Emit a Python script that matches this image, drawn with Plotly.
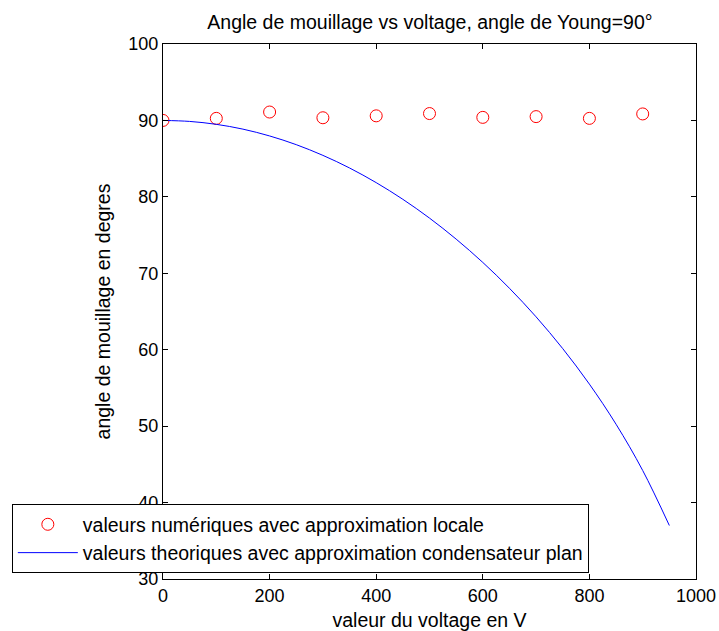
import plotly.graph_objects as go

# Measured contact angles (local approximation)
volt_num = [0, 100, 200, 300, 400, 500, 600, 700, 800, 900]
angle_num = [90.0, 90.27, 91.1, 90.35, 90.6, 90.9, 90.4, 90.5, 90.27, 90.85]

# Theoretical contact angles (parallel-plate capacitor approximation)
volt_th = [0, 50, 100, 150, 200, 250, 300, 350, 400, 450, 500,
           550, 600, 650, 700, 750, 800, 850, 900, 950]
angle_th = [90.0, 89.87, 89.49, 88.86, 87.97, 86.83, 85.43, 83.78, 81.86, 79.68, 77.22,
            74.47, 71.42, 68.04, 64.30, 60.14, 55.50, 50.25, 44.20, 37.0]

FONT = "Liberation Sans, Arial, sans-serif"
TXT = 19.5

fig = go.Figure()
fig.add_trace(go.Scatter(
    x=volt_num, y=angle_num, mode="markers",
    name="valeurs numériques avec approximation locale",
    marker=dict(symbol="circle-open", size=12, color="#ff0000", line=dict(width=1)),
))
fig.add_trace(go.Scatter(
    x=volt_th, y=angle_th, mode="lines",
    name="valeurs theoriques avec approximation condensateur plan",
    line=dict(color="#0000ff", width=1, shape="spline"),
))

axis_common = dict(
    showgrid=False, zeroline=False, showline=True, linecolor="black", linewidth=1,
    mirror="allticks", ticks="inside", ticklen=5, tickcolor="black",
    tickfont=dict(family=FONT, size=18, color="black"),
    automargin=False,
)

fig.update_layout(
    width=719, height=631,
    margin=dict(l=160, r=23, t=44, b=52),
    paper_bgcolor="white", plot_bgcolor="white",
    title=dict(text="Angle de mouillage vs voltage, angle de Young=90°",
               font=dict(family=FONT, size=TXT, color="black"),
               x=0.598, xanchor="center", y=0.965, yanchor="middle"),
    xaxis=dict(range=[0, 1000], tickvals=[0, 200, 400, 600, 800, 1000],
               title=dict(text="valeur du voltage en V", standoff=10,
                          font=dict(family=FONT, size=TXT, color="black")),
               **axis_common),
    yaxis=dict(range=[30, 100], tickvals=[30, 40, 50, 60, 70, 80, 90, 100],
               title=dict(text="angle de mouillage en degres", standoff=12,
                          font=dict(family=FONT, size=TXT, color="black")),
               **axis_common),
    legend=dict(x=-0.2836, y=0.011, xanchor="left", yanchor="bottom",
                bgcolor="white", bordercolor="black", borderwidth=1,
                font=dict(family=FONT, size=TXT, color="black"),
                itemwidth=60, tracegroupgap=0),
    showlegend=True,
)

fig.write_html("out.html")
